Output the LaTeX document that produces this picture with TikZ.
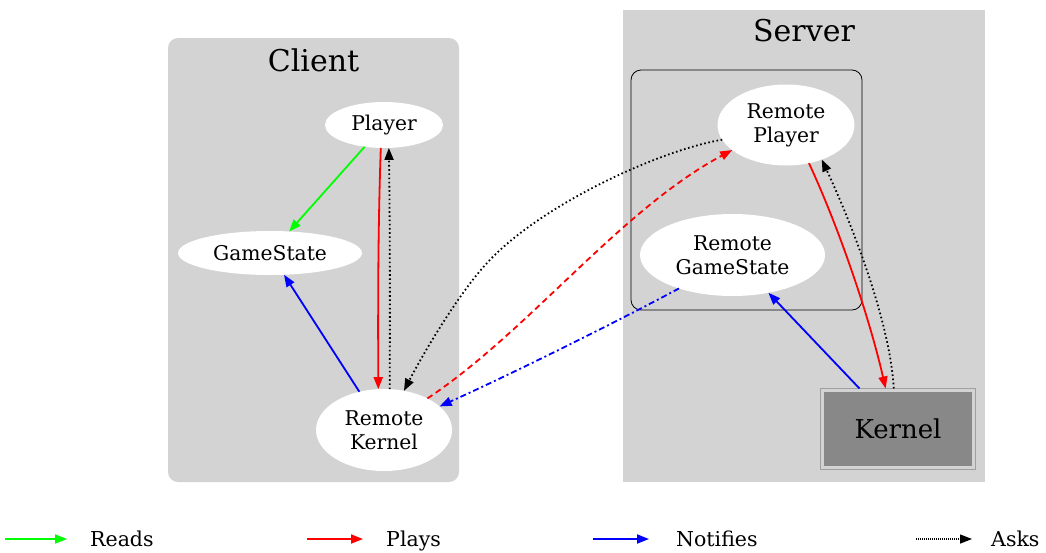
\documentclass[tikz,border=0pt]{standalone}
\usepackage{fontspec}
\setmainfont{DejaVu Serif}
\usetikzlibrary{arrows.meta,shapes.geometric,fit}

\definecolor{clusterbg}{HTML}{D3D3D3}
\definecolor{kernelbg}{HTML}{888888}
\definecolor{kernelrim}{HTML}{A0A0A0}
\definecolor{readsc}{HTML}{00FF00}
\definecolor{playsc}{HTML}{FF0000}
\definecolor{notifyc}{HTML}{0000FF}

\tikzset{
  tip/.style={-{Triangle[length=12pt,width=9pt]}},
  cluster/.style={rectangle, fill=clusterbg, draw=none, inner sep=0pt, outer sep=0pt},
  title/.style={font=\fontsize{30}{34}\selectfont},
  actor/.style={ellipse, fill=white, draw=none, inner sep=0pt, outer sep=0pt,
    align=center, font=\fontsize{20.3}{24}\selectfont},
  legendtext/.style={anchor=base west, inner sep=0pt, font=\fontsize{20.5}{24}\selectfont},
  reads/.style={tip, draw=readsc, line width=1.8pt},
  plays/.style={tip, draw=playsc, line width=1.8pt},
  notifies/.style={tip, draw=notifyc, line width=1.8pt},
  asks/.style={tip, draw=black, line width=1.8pt, dash pattern=on 1.6pt off 2.6pt},
  remoteplays/.style={plays, dash pattern=on 6pt off 4pt},
  remotenotifies/.style={notifies, dash pattern=on 6pt off 3pt on 2pt off 3pt},
}

\begin{document}
\begin{tikzpicture}[x=1pt,y=-1pt]
  \useasboundingbox (0,0) rectangle (1046,552);

  % clusters
  \node[cluster, rounded corners=10pt, minimum width=291pt, minimum height=444pt] (client) at (313.5,260) {};
  \node[title] (clienttitle) at (313.5,60) {Client};
  \node[cluster, minimum width=362pt, minimum height=472pt] (server) at (804,246) {};
  \node[title] (servertitle) at (804,31) {Server};
  \node[rectangle, rounded corners=10pt, draw=black, line width=0.8pt,
        minimum width=231pt, minimum height=240pt] (remotebox) at (746.5,190) {};

  % client side
  \node[actor, minimum width=118pt, minimum height=46pt] (player) at (384,125) {Player};
  \node[actor, minimum width=184pt, minimum height=44pt] (gamestate) at (270,253) {GameState};
  \node[actor, minimum width=136pt, minimum height=82pt] (rkernel) at (384,430) {Remote\\Kernel};

  % server side
  \node[actor, minimum width=137pt, minimum height=81pt] (rplayer) at (786,125) {Remote\\Player};
  \node[actor, minimum width=185pt, minimum height=82pt] (rgamestate) at (732.5,255) {Remote\\GameState};
  \node[rectangle, fill=kernelbg, inner sep=0pt, outer sep=0pt,
        minimum width=148pt, minimum height=74pt,
        font=\fontsize{26}{30}\selectfont] (kernelcore) at (898,429) {Kernel};
  \node[fit=(kernelcore), inner sep=3.5pt, outer sep=0pt, draw=kernelrim, line width=1pt] (kernel) {};

  % client edges
  \draw[reads] (player) -- (gamestate);
  \draw[plays] (player.262) .. controls (378,230) and (378,300) .. (rkernel.98);
  \draw[asks] (rkernel.82) .. controls (390,300) and (390,230) .. (player.-78);
  \draw[notifies] (rkernel) -- (gamestate);

  % edges crossing between client and server
  \draw[asks] (rplayer.193) .. controls (660,150) and (540,205) .. (487,263)
              .. controls (460,292) and (425,350) .. (rkernel.63);
  \draw[remoteplays] (rkernel.36) .. controls (530,330) and (620,210) .. (rplayer.205);
  \draw[remotenotifies] (rgamestate.212) .. controls (620,320) and (520,370) .. (rkernel.23);

  % server edges
  \draw[notifies] (kernel) -- (rgamestate);
  \draw[plays] (rplayer.-59) .. controls (840,230) and (870,320) .. (kernel.107);
  \draw[asks] (kernel.96) .. controls (890,320) and (850,220) .. (rplayer.-44);

  % legend
  \coordinate (readsA) at (5,539);   \coordinate (readsB) at (67,539);
  \coordinate (playsA) at (307,539); \coordinate (playsB) at (363,539);
  \coordinate (notA) at (593,539);   \coordinate (notB) at (649,539);
  \coordinate (asksA) at (916,539);  \coordinate (asksB) at (972,539);
  \draw[reads] (readsA) -- (readsB);
  \draw[plays] (playsA) -- (playsB);
  \draw[notifies] (notA) -- (notB);
  \draw[asks, line width=1.3pt, dash pattern=on 1pt off 1pt] (asksA) -- (asksB);
  \node[legendtext] (readslabel) at (90,546.5) {Reads};
  \node[legendtext] (playslabel) at (386,546.5) {Plays};
  \node[legendtext] (notlabel) at (676,546.5) {Notifies};
  \node[legendtext] (askslabel) at (991,546.5) {Asks};
\end{tikzpicture}
\end{document}
